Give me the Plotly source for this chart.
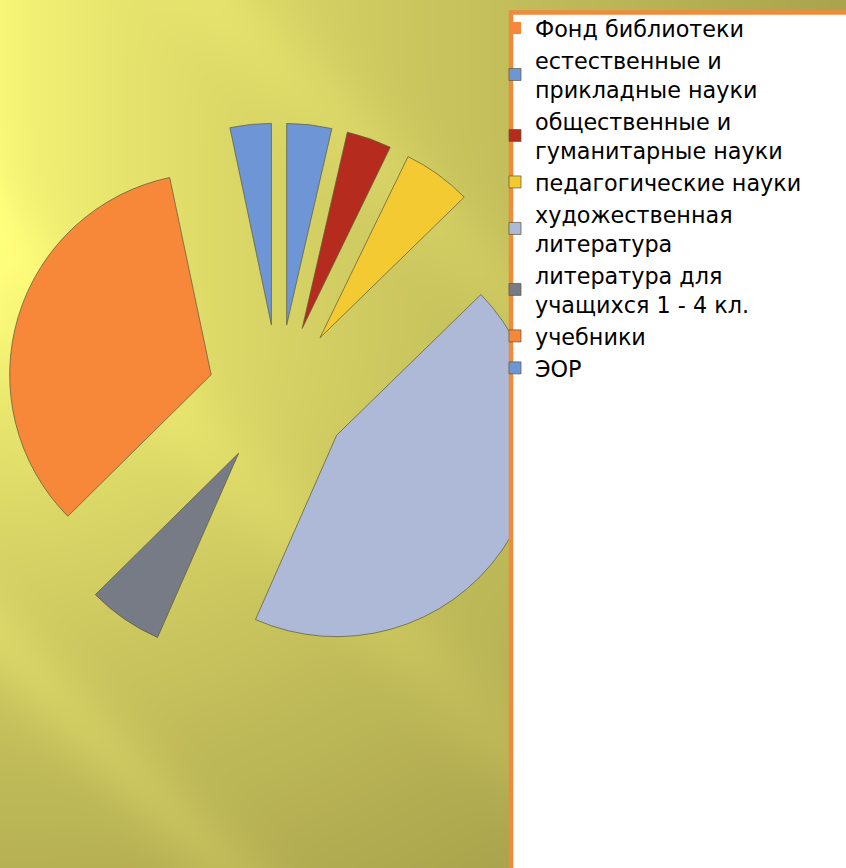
import numpy as np
import zlib, struct, base64
import plotly.graph_objects as go

# ---------------- data ----------------
labels = [
    "Фонд библиотеки",
    "естественные и<br>прикладные науки",
    "общественные и<br>гуманитарные науки",
    "педагогические науки",
    "художественная<br>литература",
    "литература для<br>учащихся 1 - 4 кл.",
    "учебники",
    "ЭОР",
]
values = [0, 3.6, 3.6, 5.5, 43.9, 6.0, 34.1, 3.3]
colors = ["#F7883A", "#6E96D6", "#B52B1D", "#F4CA33", "#ADB9D7", "#767B85", "#F7883A", "#6E96D6"]

W_FIG, H_FIG = 846, 868

# ---------------- background image (gradient with light streaks) ----------------
def make_background(w=423, h=434):
    ys, xs = np.mgrid[0:h, 0:w].astype(float)
    X = (xs + 0.5) * W_FIG / w
    Y = (ys + 0.5) * H_FIG / h
    dist = np.sqrt((0.8 * X) ** 2 + np.maximum(0, Y - 330) ** 2)
    t = np.clip(dist / 720.0, 0, 1) ** 0.75
    bright = np.array([250, 248, 120], float)
    dark = np.array([166, 160, 75], float)
    img = bright * (1 - t[..., None]) + dark * t[..., None]
    p = (X - Y) / np.sqrt(2)
    for c, a, s in [(-455, 13, 26), (-167, 9, 30), (153, 9, 30)]:
        img += a * np.exp(-((p - c) / s) ** 2 / 2)[..., None] * np.array([1, 1, 0.55])
    return np.clip(img, 0, 255).astype(np.uint8)


def png_data_uri(a):
    h, w, _ = a.shape
    f = a.astype(np.int16)
    diff = f.copy()
    diff[:, 1:, :] = (f[:, 1:, :] - f[:, :-1, :]) % 256
    rows = diff.astype(np.uint8).reshape(h, w * 3)
    raw = np.hstack([np.ones((h, 1), np.uint8), rows]).tobytes()

    def chunk(tag, data):
        c = struct.pack(">I", len(data)) + tag + data
        return c + struct.pack(">I", zlib.crc32(tag + data) & 0xFFFFFFFF)

    png = (b"\x89PNG\r\n\x1a\n"
           + chunk(b"IHDR", struct.pack(">IIBBBBB", w, h, 8, 2, 0, 0, 0))
           + chunk(b"IDAT", zlib.compress(raw, 9))
           + chunk(b"IEND", b""))
    return "data:image/png;base64," + base64.b64encode(png).decode()


bg_uri = png_data_uri(make_background())

# ---------------- figure ----------------
line_widths = [0] + [1] * (len(values) - 1)

fig = go.Figure(go.Pie(
    labels=labels,
    values=values,
    sort=False,
    direction="clockwise",
    rotation=0,
    pull=0.35,
    textinfo="none",
    hoverinfo="label+percent",
    marker=dict(colors=colors, line=dict(color="rgba(95,95,60,0.75)", width=line_widths)),
    domain=dict(x=[6.7 / W_FIG, 550.7 / W_FIG], y=[1 - 667 / H_FIG, 1 - 123 / H_FIG]),
))

fig.update_layout(
    width=W_FIG, height=H_FIG,
    margin=dict(l=0, r=0, t=0, b=0),
    paper_bgcolor="#D8D465",
    plot_bgcolor="rgba(0,0,0,0)",
    images=[dict(source=bg_uri, xref="paper", yref="paper", x=0, y=1, sizex=1, sizey=1,
                 xanchor="left", yanchor="top", sizing="stretch", layer="below")],
    shapes=[dict(type="rect", xref="paper", yref="paper",
                 x0=511 / W_FIG, x1=1.02, y0=-0.02, y1=1 - 12.5 / H_FIG,
                 fillcolor="white", line=dict(color="#F08A3C", width=4.5), layer="above")],
    showlegend=True,
    legend=dict(
        x=495 / W_FIG, y=1 - 7 / H_FIG, xanchor="left", yanchor="top",
        bgcolor="rgba(0,0,0,0)", borderwidth=0,
        font=dict(family="DejaVu Sans, sans-serif", size=22.3, color="black"),
        traceorder="normal", valign="middle",
    ),
)

fig.write_html(
    "out.html",
    config={"displayModeBar": False},
    post_script="document.body.style.margin='0';document.body.style.overflow='hidden';",
)
